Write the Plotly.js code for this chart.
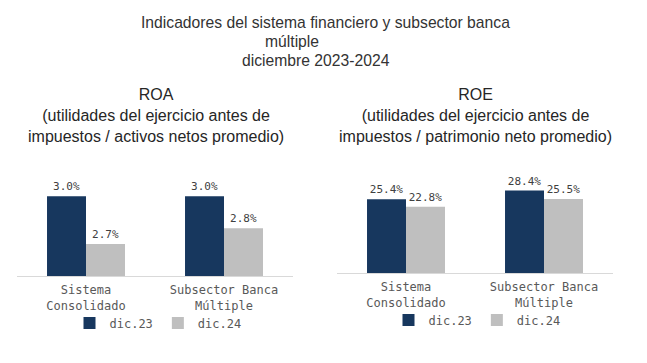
<!DOCTYPE html>
<html><head><meta charset="utf-8">
<script src="https://cdn.plot.ly/plotly-3.0.1.min.js"></script>
<style>html,body{margin:0;padding:0;background:#fff}</style>
</head><body><div id="chart" style="width:647px;height:363px"></div>
<script>
const categories = ["Sistema<br>Consolidado", "Subsector Banca<br>Múltiple"];
const seriesNames = ["dic.23", "dic.24"];
const roaDic23 = [3.0, 3.0];
const roaDic24 = [2.7, 2.8];
const roeDic23 = [25.4, 28.4];
const roeDic24 = [22.8, 25.5];
const titleLines = ["Indicadores del sistema financiero y subsector banca", "múltiple", "diciembre 2023-2024"];
const roaTitle = "ROA<br>(utilidades del ejercicio antes de<br>impuestos / activos netos promedio)";
const roeTitle = "ROE<br>(utilidades del ejercicio antes de<br>impuestos / patrimonio neto promedio)";

const W = 647, H = 363;
const colors = ["#17375E", "#BFBFBF"];
const mono = "DejaVu Sans Mono, monospace";
const sans = "Liberation Sans, Arial, sans-serif";

function bar(name, y, color, xa, ya, legend) {
  return {
    type: "bar", name: name, x: categories, y: y,
    xaxis: xa, yaxis: ya, legend: legend,
    marker: {color: color},
    text: y.map(v => v.toFixed(1) + "%"),
    textposition: "outside", cliponaxis: false,
    textfont: {family: mono, size: 11, color: "#404040"},
    hoverinfo: "skip"
  };
}

const data = [
  bar(seriesNames[0], roaDic23, colors[0], "x", "y", "legend"),
  bar(seriesNames[1], roaDic24, colors[1], "x", "y", "legend"),
  bar(seriesNames[0], roeDic23, colors[0], "x2", "y2", "legend2"),
  bar(seriesNames[1], roeDic24, colors[1], "x2", "y2", "legend2")
];

const xCommon = {
  type: "category", showline: true, linecolor: "#D9D9D9", linewidth: 1,
  ticks: "", showgrid: false, zeroline: false, ticklabelstandoff: 3,
  tickfont: {family: mono, size: 12, color: "#595959"}
};
const yCommon = {visible: false, showgrid: false, zeroline: false, fixedrange: true};

const px = v => v / W, py = v => 1 - v / H;

const layout = {
  width: W, height: H,
  margin: {l: 0, r: 0, t: 0, b: 0},
  paper_bgcolor: "#fff", plot_bgcolor: "#fff",
  barmode: "group", bargap: 0.435, bargroupgap: 0,
  xaxis: Object.assign({}, xCommon, {domain: [px(17), px(293)], anchor: "y"}),
  yaxis: Object.assign({}, yCommon, {domain: [py(276), py(150)], range: [2.5, 3.29], anchor: "x"}),
  xaxis2: Object.assign({}, xCommon, {domain: [px(337), px(613)], anchor: "y2"}),
  yaxis2: Object.assign({}, yCommon, {domain: [py(273), py(150)], range: [0, 42.4], anchor: "x2"}),
  legend: {orientation: "h", x: px(158), xanchor: "center", y: py(323), yanchor: "middle",
           font: {family: mono, size: 12, color: "#595959"}, bgcolor: "rgba(0,0,0,0)"},
  legend2: {orientation: "h", x: px(477), xanchor: "center", y: py(320), yanchor: "middle",
           font: {family: mono, size: 12, color: "#595959"}, bgcolor: "rgba(0,0,0,0)"},
  showlegend: true,
  annotations: [
    {text: titleLines[0], x: px(325), y: py(23)},
    {text: titleLines[1], x: px(292), y: py(41)},
    {text: titleLines[2], x: px(316), y: py(60)},
    {text: roaTitle, x: px(156), y: py(115), font: {family: sans, size: 16, color: "#262626"}},
    {text: roeTitle, x: px(475), y: py(115), font: {family: sans, size: 16, color: "#262626"}}
  ].map(a => Object.assign({xref: "paper", yref: "paper", xanchor: "center", yanchor: "middle",
        showarrow: false, font: {family: sans, size: 15.7, color: "#333333"}}, a))
};

Plotly.newPlot("chart", data, layout, {displayModeBar: false, staticPlot: true});
</script></body></html>
